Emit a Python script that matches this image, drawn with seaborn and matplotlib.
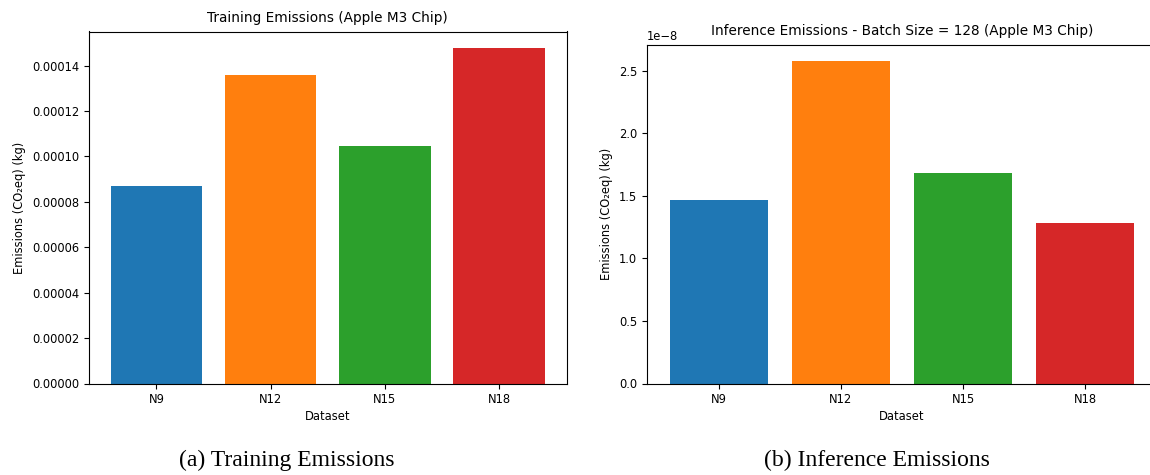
import matplotlib
matplotlib.use("Agg")
import matplotlib.pyplot as plt
import seaborn as sns

# data
datasets = ["N9", "N12", "N15", "N18"]
train_emissions = [0.0000868, 0.0001357, 0.0001048, 0.0001476]
infer_emissions = [1.466e-8, 2.580e-8, 1.683e-8, 1.282e-8]
colors = ["#1f77b4", "#ff7f0e", "#2ca02c", "#d62728"]

plt.rcParams["font.family"] = ["DejaVu Sans"]
tick_fs = 8.3
label_fs = 8.3
title_fs = 9.8

fig = plt.figure(figsize=(11.5, 4.75), dpi=100)
ax1 = fig.add_axes([89 / 1150, 1 - 383.5 / 475, 477.5 / 1150, 352 / 475])
ax2 = fig.add_axes([647 / 1150, 1 - 383.5 / 475, 510 / 1150, 339 / 475])

panels = [
    (ax1, train_emissions, "Training Emissions (Apple M3 Chip)", 0.000155),
    (ax2, infer_emissions, "Inference Emissions - Batch Size = 128 (Apple M3 Chip)", 2.708e-8),
]

for ax, vals, title, top in panels:
    sns.barplot(x=datasets, y=vals, hue=datasets, palette=colors, saturation=1,
                width=0.8, legend=False, ax=ax)
    ax.set_xlim(-0.59, 3.59)
    ax.set_ylim(0, top)
    ax.set_title(title, fontsize=title_fs, pad=7)
    ax.set_xlabel("Dataset", fontsize=label_fs, labelpad=3)
    ax.set_ylabel("Emissions (CO₂eq) (kg)", fontsize=label_fs)
    ax.tick_params(labelsize=tick_fs)
    ax.yaxis.get_offset_text().set_fontsize(tick_fs)

# sub-captions
fig.text(287 / 1150, 1 - 460 / 475, "(a) Training Emissions", ha="center", va="center",
         fontsize=17, family=["Liberation Serif"])
fig.text(877 / 1150, 1 - 460 / 475, "(b) Inference Emissions", ha="center", va="center",
         fontsize=17, family=["Liberation Serif"])

fig.savefig("out.png", dpi=100)
